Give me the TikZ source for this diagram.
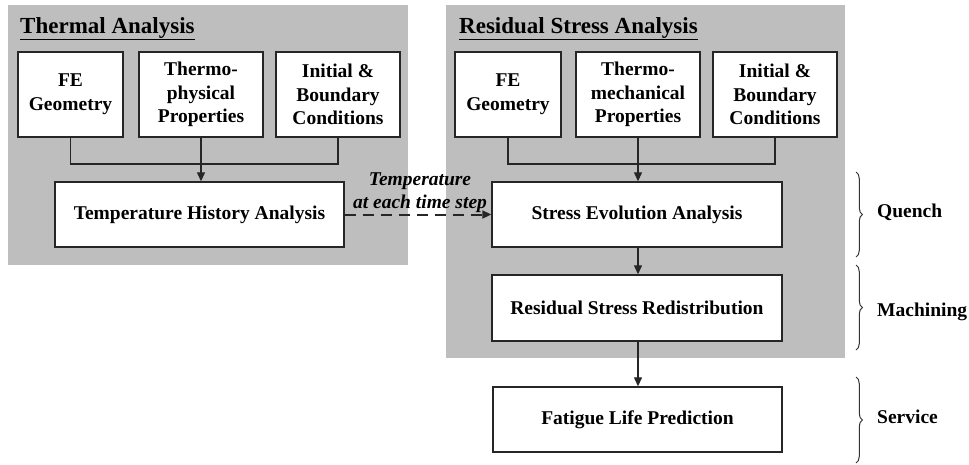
\documentclass[tikz,border=0pt]{standalone}
\usepackage{fontspec}
\setmainfont{Liberation Serif}
\usetikzlibrary{arrows.meta,decorations.pathreplacing}
\definecolor{panelgray}{RGB}{190,190,190}
\tikzset{
  box/.style={draw=black!85, line width=1.4pt, fill=white, align=center, inner sep=2pt,
    font=\fontsize{19.5}{23.8}\selectfont\bfseries},
  conn/.style={draw=black!85, line width=1.3pt},
  arr/.style={conn, -{Triangle[length=9pt,width=8pt]}},
  ttl/.style={anchor=base west, inner sep=0pt, font=\fontsize{23}{26}\selectfont\bfseries},
  phase/.style={anchor=west, inner sep=0pt, font=\fontsize{19.5}{24}\selectfont\bfseries},
  brc/.style={draw=black!80, line width=1pt, decorate, decoration={brace, amplitude=6.5pt}},
}
\begin{document}
\begin{tikzpicture}[x=1pt,y=-1pt]
\useasboundingbox (0,0) rectangle (969,464);
% panels
\fill[panelgray] (8,5) rectangle (408,265);
\fill[panelgray] (446,5) rectangle (845,358);
% titles
\node[ttl] (t1) at (20,33) {\underline{Thermal Analysis}};
\node[ttl] (t2) at (459,33) {\underline{Residual Stress Analysis}};
% left boxes
\node[box, minimum width=105, minimum height=85] (FE1) at (70.5,94.5) {FE\\Geometry};
\node[box, minimum width=124, minimum height=85] (TP1) at (201,94.5) {Thermo-\\physical\\Properties};
\node[box, minimum width=124, minimum height=85] (IB1) at (338,94.5) {Initial \&\\Boundary\\Conditions};
\node[box, minimum width=289, minimum height=65] (TH) at (199.5,214.5) {Temperature History Analysis};
% right boxes
\node[box, minimum width=106, minimum height=85] (FE2) at (508,94.5) {FE\\Geometry};
\node[box, minimum width=124, minimum height=85] (TP2) at (638,94.5) {Thermo-\\mechanical\\Properties};
\node[box, minimum width=124, minimum height=85] (IB2) at (775,94.5) {Initial \&\\Boundary\\Conditions};
\node[box, minimum width=290, minimum height=65] (SE) at (637,214.5) {Stress Evolution Analysis};
\node[box, minimum width=290, minimum height=66] (RS) at (637,308) {Residual Stress Redistribution};
\node[box, minimum width=289, minimum height=65] (FL) at (637.5,419.5) {Fatigue Life Prediction};
% left connectors
\coordinate (j1) at (201,164);
\draw[conn] (FE1.south) |- (j1) -| (IB1.south);
\draw[arr] (TP1.south) -- (TP1.south |- TH.north);
% right connectors
\coordinate (j2) at (638,164);
\draw[conn] (FE2.south) |- (j2) -| (IB2.south);
\draw[arr] (TP2.south) -- (TP2.south |- SE.north);
\draw[arr] (SE.south -| TP2) -- (RS.north -| TP2);
\draw[arr] (RS.south -| TP2) -- (FL.north -| TP2);
% dashed transfer
\draw[arr, line width=2pt, dash pattern=on 11pt off 7pt] (TH.east) -- (SE.west);
\node[font=\fontsize{19.5}{23}\selectfont\bfseries\itshape, align=center, inner sep=0pt] (lbl) at (420,193) {Temperature\\at each time step};
% braces
\coordinate (q1) at (856,172); \coordinate (q2) at (856,257);
\coordinate (m1) at (856,265); \coordinate (m2) at (856,350);
\coordinate (s1) at (856,377); \coordinate (s2) at (856,463);
\draw[brc] (q1) -- (q2);
\draw[brc] (m1) -- (m2);
\draw[brc] (s1) -- (s2);
\node[phase] (Q) at (877,212) {Quench};
\node[phase] (M) at (877,312) {Machining};
\node[phase] (S) at (877,417) {Service};
\end{tikzpicture}
\end{document}
